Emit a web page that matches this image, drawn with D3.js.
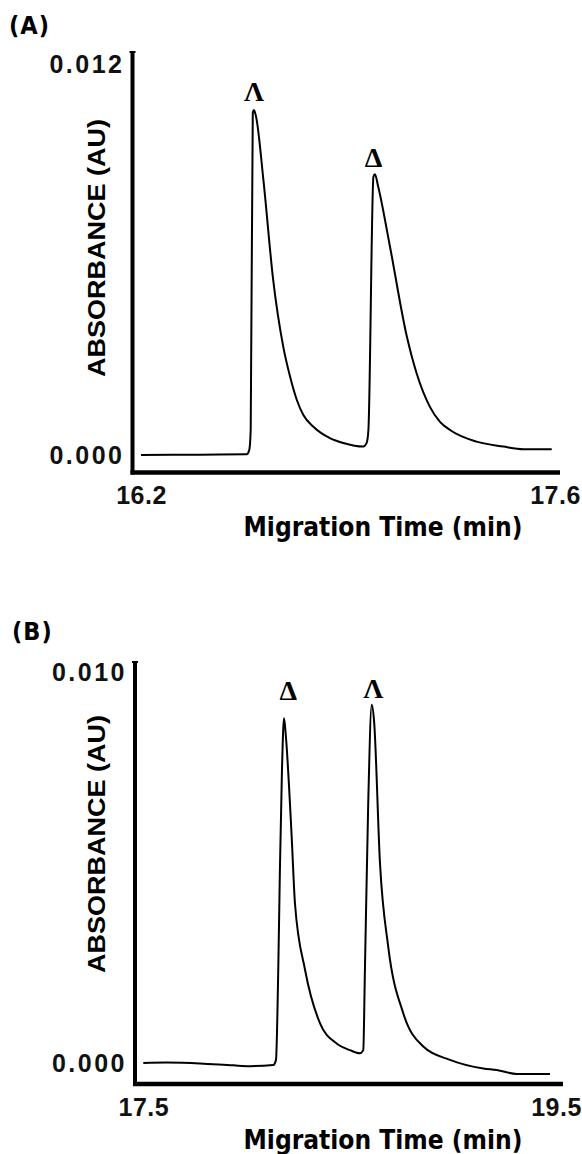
<!DOCTYPE html>
<html>
<head>
<meta charset="utf-8">
<script src="https://cdn.jsdelivr.net/npm/d3@7/dist/d3.min.js"></script>
<style>
  body { margin: 0; background: #fff; }
  svg { display: block; background: #fff; }
</style>
</head>
<body>
<svg id="chart" width="582" height="1154"></svg>
<script>
// panel A: 16.2 - 17.6 min
var timeA = [16.200, 16.400, 16.557, 16.566, 16.571, 16.578, 16.582, 16.589, 16.614, 16.647,
             16.681, 16.704, 16.727, 16.749, 16.783, 16.839, 16.884, 16.952, 16.963, 16.969,
             16.986, 16.991, 17.002, 17.042, 17.099, 17.132, 17.177, 17.211, 17.245, 17.335,
             17.425, 17.493, 17.589];
var absA  = [0.00000, 0.00001, 0.00002, 0.00015, 0.00077, 0.01051, 0.01060, 0.01040, 0.00845, 0.00538,
             0.00333, 0.00241, 0.00169, 0.00123, 0.00087, 0.00052, 0.00037, 0.00026, 0.00037, 0.00077,
             0.00855, 0.00863, 0.00825, 0.00640, 0.00364, 0.00251, 0.00148, 0.00102, 0.00077, 0.00041,
             0.00026, 0.00018, 0.00018];

// panel B: 17.5 - 19.5 min
var timeB = [17.500, 17.613, 17.775, 17.936, 18.017, 18.130, 18.143, 18.154, 18.162, 18.172,
             18.182, 18.191, 18.219, 18.235, 18.284, 18.356, 18.437, 18.501, 18.550, 18.566,
             18.574, 18.590, 18.607, 18.618, 18.647, 18.687, 18.760, 18.857, 18.986, 19.148,
             19.213, 19.310, 19.471];
var absB  = [0.00000, 0.00001, -0.00001, -0.00006, -0.00008, -0.00005, 0.00008, 0.00238, 0.00494, 0.00749,
             0.00882, 0.00835, 0.00579, 0.00408, 0.00238, 0.00102, 0.00050, 0.00033, 0.00025, 0.00033,
             0.00238, 0.00664, 0.00916, 0.00877, 0.00511, 0.00297, 0.00127, 0.00042, 0.00008, -0.00014,
             -0.00018, -0.00028, -0.00028];

// peak labels (enantiomers)
var peakNamesA = ["Λ", "Δ"];
var peakTimeA  = [16.582, 16.986];
var peakAbsA   = [0.01117, 0.00914];
var peakNamesB = ["Δ", "Λ"];
var peakTimeB  = [18.203, 18.615];
var peakAbsB   = [0.00952, 0.00957];

var xTicksA = [16.2, 17.6], yTicksA = [0, 0.012];
var xTicksB = [17.5, 19.5], yTicksB = [0, 0.010];

var svg = d3.select("#chart");

function tickStyle(sel, spacing) {
    sel.style("font-family", "'Liberation Sans', Arial, sans-serif")
       .style("font-weight", "bold")
       .style("font-size", "25px")
       .style("letter-spacing", spacing)
       .style("fill", "#111");
}

function drawPanel(p) {
    var x = d3.scaleLinear().domain(p.xDomain).range(p.xRange);
    var y = d3.scaleLinear().domain(p.yDomain).range(p.yRange);
    var g = svg.append("g");

    // panel letter
    g.append("text")
        .attr("x", p.titleX).attr("y", p.titleY)
        .attr("dominant-baseline", "central")
        .style("font-family", "'DejaVu Sans Condensed', 'DejaVu Sans', sans-serif")
        .style("font-weight", "bold")
        .style("font-size", "25px")
        .style("letter-spacing", "1px")
        .text(p.title);

    // heavy axis lines
    g.append("line")
        .attr("x1", p.axisX).attr("x2", p.axisX)
        .attr("y1", p.axisTop).attr("y2", p.axisY + 2)
        .attr("stroke", "#000").attr("stroke-width", 4);
    g.append("line")
        .attr("x1", p.axisX - 2).attr("x2", p.axisRight)
        .attr("y1", p.axisY).attr("y2", p.axisY)
        .attr("stroke", "#000").attr("stroke-width", 4.5);
    g.append("line")
        .attr("x1", p.axisX - 3).attr("x2", p.axisX + 3)
        .attr("y1", p.axisTop).attr("y2", p.axisTop)
        .attr("stroke", "#000").attr("stroke-width", 2);

    var yAxis = d3.axisLeft(y).tickValues(p.yTicks)
        .tickFormat(d3.format(".3f")).tickSize(0);
    g.append("g")
        .attr("transform", "translate(" + (p.axisX - 5) + ",0)")
        .call(yAxis)
        .call(function(s) { s.select(".domain").remove(); })
        .selectAll("text").call(tickStyle, "2.5px");

    var xAxis = d3.axisBottom(x).tickValues(p.xTicks)
        .tickFormat(d3.format(".1f")).tickSize(0);
    g.append("g")
        .attr("transform", "translate(0," + (p.xLabelY - 10) + ")")
        .call(xAxis)
        .call(function(s) { s.select(".domain").remove(); })
        .selectAll("text").attr("dy", 0).attr("y", 10)
        .attr("dominant-baseline", "central")
        .call(tickStyle, "0.5px");

    // axis titles
    g.append("text")
        .attr("x", p.xTitleX).attr("y", p.xTitleY)
        .attr("text-anchor", "middle")
        .attr("dominant-baseline", "central")
        .attr("textLength", 279).attr("lengthAdjust", "spacingAndGlyphs")
        .style("font-family", "'DejaVu Sans Condensed', 'DejaVu Sans', sans-serif")
        .style("font-weight", "bold")
        .style("font-size", "26px")
        .text("Migration Time (min)");

    g.append("text")
        .attr("transform", "translate(" + p.yTitleX + "," + p.yTitleY + ") rotate(-90)")
        .attr("text-anchor", "middle")
        .attr("dominant-baseline", "central")
        .attr("textLength", 258).attr("lengthAdjust", "spacingAndGlyphs")
        .style("font-family", "'Liberation Sans', Arial, sans-serif")
        .style("font-weight", "bold")
        .style("font-size", "23px")
        .text("ABSORBANCE (AU)");

    // electropherogram trace
    var pts = p.time.map(function(t, i) { return [t, p.abs[i]]; });
    var line = d3.line()
        .x(function(d) { return x(d[0]); })
        .y(function(d) { return y(d[1]); })
        .curve(d3.curveMonotoneX);
    g.append("path")
        .datum(pts)
        .attr("d", line)
        .attr("fill", "none")
        .attr("stroke", "#000")
        .attr("stroke-width", 2)
        .attr("stroke-linejoin", "round");

    // peak labels
    g.selectAll(".peak")
        .data(p.names)
        .enter().append("text")
        .attr("class", "peak")
        .attr("x", function(d, i) { return x(p.peakTime[i]); })
        .attr("y", function(d, i) { return y(p.peakAbs[i]); })
        .attr("text-anchor", "middle")
        .attr("dominant-baseline", "central")
        .style("font-family", "'Liberation Serif', 'DejaVu Serif', serif")
        .style("font-weight", "bold")
        .style("font-size", "28px")
        .text(function(d) { return d; });
}

drawPanel({
    title: "(A)", titleX: 9, titleY: 25,
    xDomain: [16.2, 17.6], xRange: [141, 555],
    yDomain: [0, 0.012], yRange: [455, 64.5],
    xTicks: xTicksA, yTicks: yTicksA,
    axisX: 132.5, axisTop: 52, axisY: 472.5, axisRight: 560,
    xLabelY: 495, xTitleX: 383, xTitleY: 527,
    yTitleX: 97, yTitleY: 248,
    time: timeA, abs: absA,
    names: peakNamesA, peakTime: peakTimeA, peakAbs: peakAbsA
});

drawPanel({
    title: "(B)", titleX: 12, titleY: 631,
    xDomain: [17.5, 19.5], xRange: [143.3, 556],
    yDomain: [0, 0.010], yRange: [1063, 672],
    xTicks: xTicksB, yTicks: yTicksB,
    axisX: 135, axisTop: 662, axisY: 1084, axisRight: 563,
    xLabelY: 1107, xTitleX: 383, xTitleY: 1140,
    yTitleX: 97, yTitleY: 844,
    time: timeB, abs: absB,
    names: peakNamesB, peakTime: peakTimeB, peakAbs: peakAbsB
});
</script>
</body>
</html>
